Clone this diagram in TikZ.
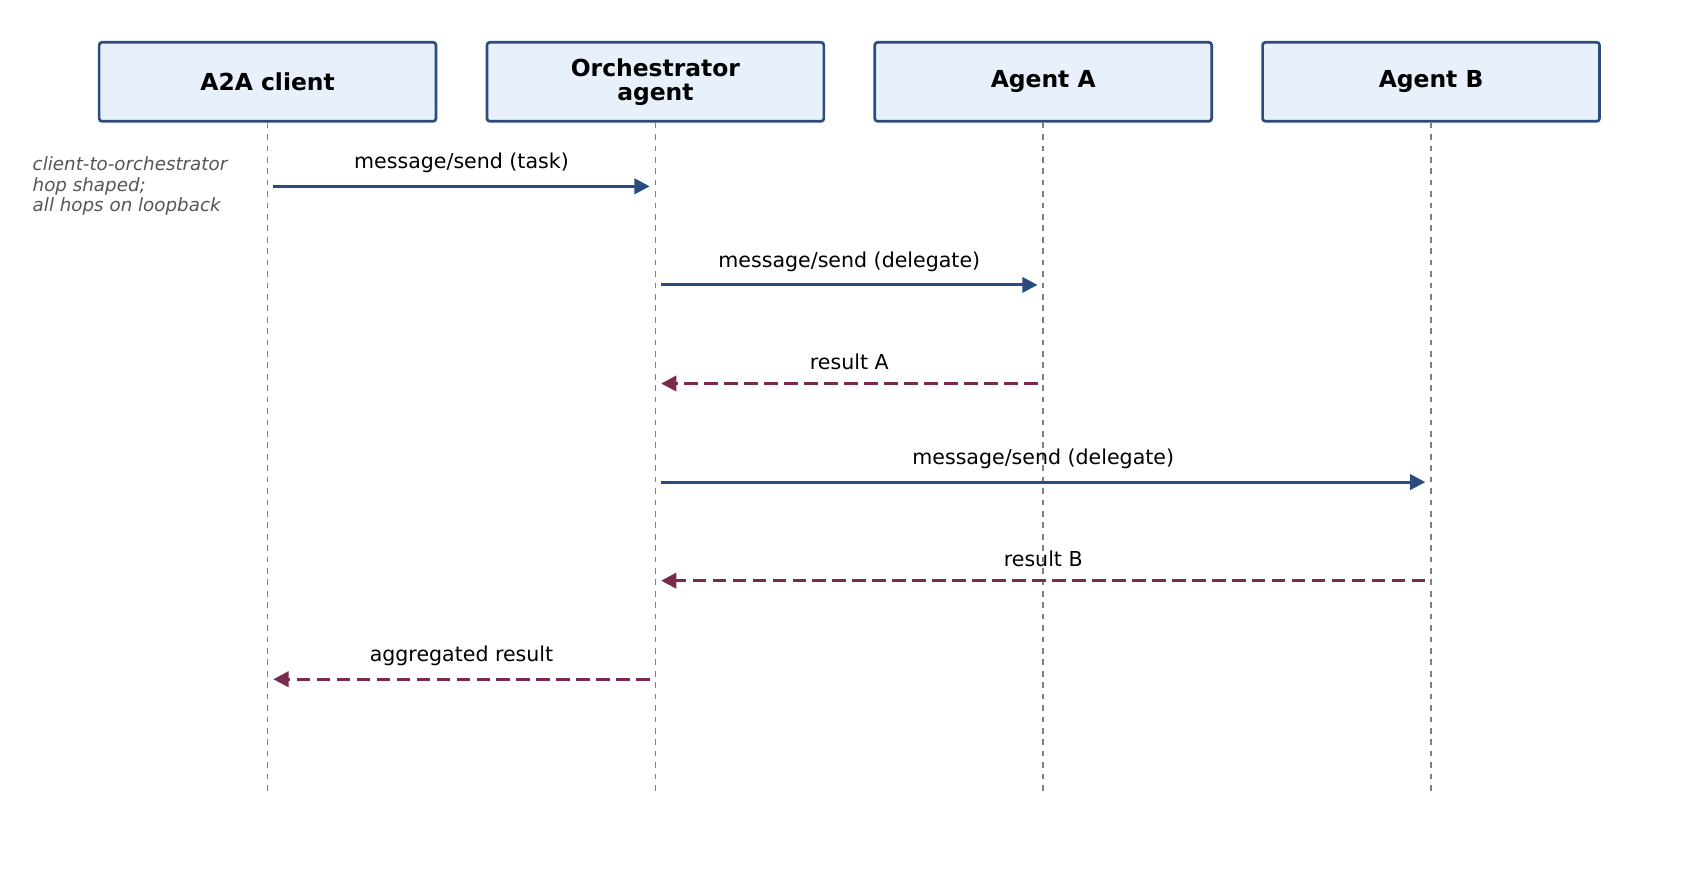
\documentclass[tikz,border=0pt]{standalone}
\usepackage{fontspec}
\setmainfont{DejaVu Sans}
\definecolor{BOXcolor}{HTML}{E8F0FB}
\definecolor{EDGEcolor}{HTML}{2B4C7E}
\definecolor{RETcolor}{HTML}{7A2A4C}
\definecolor{NOTEcolor}{HTML}{555555}
\usetikzlibrary{arrows.meta}

\begin{document}
\begin{tikzpicture}[x=0.02cm, y=-0.02cm,
        actor/.style={draw=EDGEcolor, fill=BOXcolor, line width=1.4pt, rounded corners=1.5pt,
                minimum width=6.22cm, minimum height=1.46cm, align=center,
                font=\fontsize{12.3pt}{12.5pt}\selectfont\bfseries},
        lifeline/.style={draw=gray, dashed, line width=0.9pt},
        call/.style={draw=EDGEcolor, line width=1.6pt, -{Triangle[length=8pt, width=8pt]}},
        reply/.style={draw=RETcolor, line width=1.6pt, dash pattern=on 7pt off 3.5pt, -{Triangle[length=8pt, width=8pt]}},
        msg/.style={above=3pt, font=\fontsize{10.8pt}{12pt}\selectfont}]
    \useasboundingbox (0, 0) rectangle (1560, 809);

    % actors
    \node[actor] (client) at (247, 75.5) {A2A client};
    \node[actor] (orch) at (605, 75.5) {Orchestrator\\agent};
    \node[actor] (agentA) at (963, 75.5) {Agent A};
    \node[actor] (agentB) at (1321, 75.5) {Agent B};

    % lifelines
    \foreach \n/\x in {client/247, orch/605, agentA/963, agentB/1321} {%
            \coordinate (\n-end) at (\x, 735);
            \draw[lifeline] (\n.south) -- (\n-end);
            \foreach \y in {172, 263, 354, 445, 536, 627} {%
                    \coordinate (\n-\y) at (\x, \y);
                }
        };

    % messages
    \draw[call] ([xshift=3pt]client-172) -- ([xshift=-3pt]orch-172) node[msg, midway] {message/send (task)};
    \draw[call] ([xshift=3pt]orch-263) -- ([xshift=-3pt]agentA-263) node[msg, midway] {message/send (delegate)};
    \draw[reply] ([xshift=-3pt]agentA-354) -- ([xshift=3pt]orch-354) node[msg, midway] {result A};
    \draw[call] ([xshift=3pt]orch-445) -- ([xshift=-3pt]agentB-445) node[msg, midway] {message/send (delegate)};
    \draw[reply] ([xshift=-3pt]agentB-536) -- ([xshift=3pt]orch-536) node[msg, midway] {result B};
    \draw[reply] ([xshift=-3pt]orch-627) -- ([xshift=3pt]client-627) node[msg, midway] {aggregated result};

    % note
    \node (note) at (24, 172) [anchor=west, align=left, text=NOTEcolor,
        font=\fontsize{9.6pt}{10.8pt}\selectfont\itshape] {client-to-orchestrator\\hop shaped;\\all hops on loopback};
\end{tikzpicture}
\end{document}
